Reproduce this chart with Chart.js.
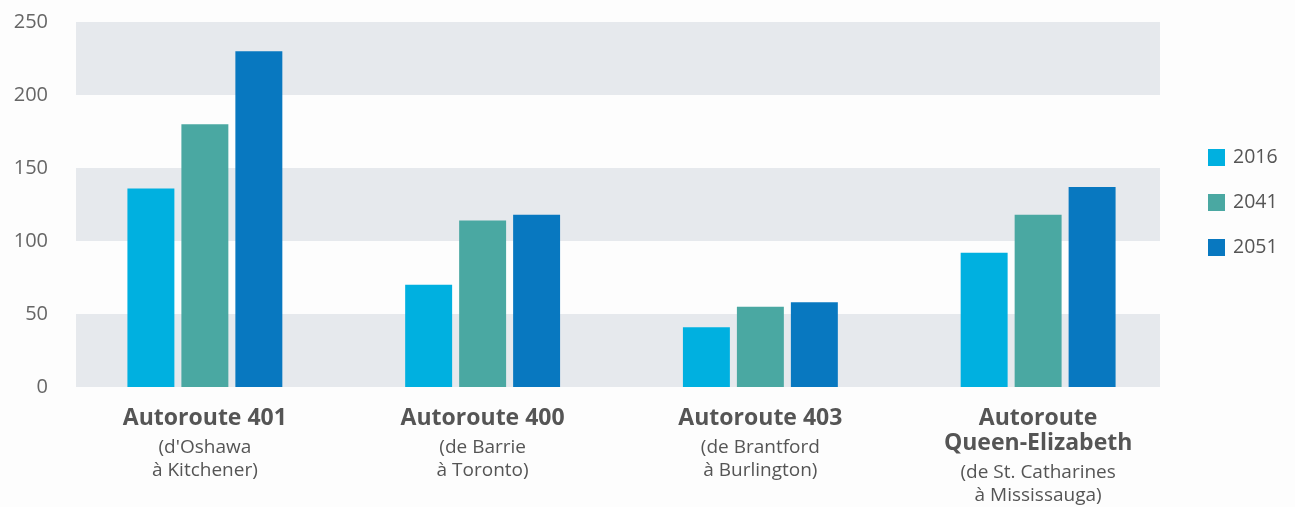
<!DOCTYPE html>
<html>
<head>
<meta charset="utf-8">
<script src="https://cdn.jsdelivr.net/npm/chart.js@4"></script>
<style>
  html, body { margin: 0; padding: 0; background: #fdfdfd; }
  #wrap { width: 1295px; height: 507px; position: relative; }
</style>
</head>
<body>
<div id="wrap"><canvas id="c" width="1295" height="507"></canvas></div>
<script>
// ---- data ----
const categories = ["Autoroute 401", "Autoroute 400", "Autoroute 403", "Autoroute Queen-Elizabeth"];
const titleLines = [["Autoroute 401"], ["Autoroute 400"], ["Autoroute 403"], ["Autoroute", "Queen-Elizabeth"]];
const subLines = [["(d'Oshawa", "à Kitchener)"], ["(de Barrie", "à Toronto)"], ["(de Brantford", "à Burlington)"], ["(de St. Catharines", "à Mississauga)"]];
const seriesNames = ["2016", "2041", "2051"];
const values2016 = [136, 70, 41, 92];
const values2041 = [180, 114, 55, 118];
const values2051 = [230, 118, 58, 137];
const yTicks = [0, 50, 100, 150, 200, 250];

// ---- styles ----
const colors = ["#00B0E0", "#4AA8A2", "#0878C0"];
const bandColor = "#E6E9ED";
const textColor = "#555555";
const FONT = "'Open Sans', 'Noto Sans', sans-serif";
const bandRanges = [[0, 50], [100, 150], [200, 250]];

const bandsPlugin = {
  id: 'bands',
  beforeDatasetsDraw(chart) {
    const { ctx, chartArea, scales } = chart;
    const y = scales.y;
    ctx.save();
    ctx.fillStyle = bandColor;
    const l = chartArea.left + 10, r = chartArea.right - 17;
    bandRanges.forEach(([a, b]) => {
      const top = y.getPixelForValue(b), bot = y.getPixelForValue(a);
      ctx.fillRect(l, top, r - l, bot - top);
    });
    ctx.restore();
  }
};

const xLabelsPlugin = {
  id: 'xlabels',
  afterDraw(chart) {
    const { ctx, scales } = chart;
    const x = scales.x;
    ctx.save();
    ctx.fillStyle = textColor;
    ctx.textAlign = 'center';
    ctx.textBaseline = 'middle';
    categories.forEach((c, i) => {
      const cx = x.getPixelForValue(i);
      let yy = 418;
      ctx.font = "700 23px " + FONT;
      titleLines[i].forEach((t) => {
        ctx.fillText(t, cx, yy);
        yy += 25;
      });
      yy += 5;
      ctx.font = "400 19px " + FONT;
      subLines[i].forEach(t => {
        ctx.fillText(t, cx, yy);
        yy += 23;
      });
    });
    ctx.restore();
  }
};

const legendPlugin = {
  id: 'customLegend',
  afterDraw(chart) {
    const { ctx } = chart;
    ctx.save();
    ctx.textBaseline = 'middle';
    ctx.textAlign = 'left';
    ctx.font = "400 19.5px " + FONT;
    chart.data.datasets.forEach((ds, i) => {
      const cy = 157 + i * 45;
      ctx.fillStyle = ds.backgroundColor;
      ctx.fillRect(1208, cy - 8, 17, 17);
      ctx.fillStyle = textColor;
      ctx.fillText(ds.label, 1233, cy);
    });
    ctx.restore();
  }
};

new Chart(document.getElementById('c'), {
  type: 'bar',
  data: {
    labels: categories,
    datasets: [
      { label: seriesNames[0], data: values2016, backgroundColor: colors[0] },
      { label: seriesNames[1], data: values2041, backgroundColor: colors[1] },
      { label: seriesNames[2], data: values2051, backgroundColor: colors[2] }
    ]
  },
  options: {
    responsive: false,
    animation: false,
    layout: { padding: { top: 14, right: 118, bottom: 112, left: 0 } },
    datasets: { bar: { categoryPercentage: 0.583, barPercentage: 0.87 } },
    plugins: { legend: { display: false }, tooltip: { enabled: false } },
    scales: {
      x: {
        ticks: { display: false },
        grid: { display: false },
        border: { display: false }
      },
      y: {
        min: 0, max: 250,
        afterFit(scale) { scale.width = 66; },
        afterBuildTicks(scale) { scale.ticks = yTicks.map(v => ({ value: v })); },
        ticks: { color: "#666", font: { family: FONT, size: 20 }, padding: 10 },
        grid: { display: false },
        border: { display: false }
      }
    }
  },
  plugins: [bandsPlugin, xLabelsPlugin, legendPlugin]
});
</script>
</body>
</html>
